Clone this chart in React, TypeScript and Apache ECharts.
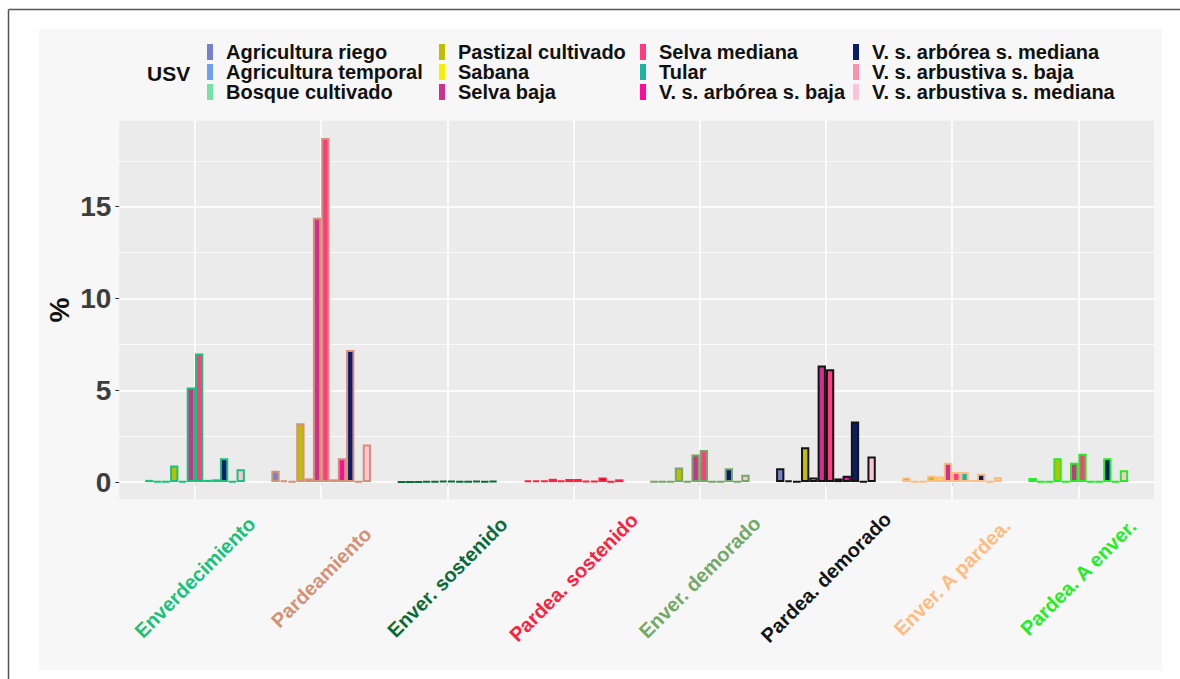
import React, { useEffect, useRef } from "react";
import * as echarts from "echarts";

// Change categories (x axis) and the colour used for each label / bar outline
const categories = [
  "Enverdecimiento",
  "Pardeamiento",
  "Enver. sostenido",
  "Pardea. sostenido",
  "Enver. demorado",
  "Pardea. demorado",
  "Enver. A pardea.",
  "Pardea. A enver.",
];
const categoryColors = [
  "#19c27a",
  "#d39176",
  "#0a6b3a",
  "#ff2040",
  "#74a865",
  "#141414",
  "#ffbb80",
  "#22ee22",
];

// Land use / vegetation classes (USV) and their fills
const usvNames = [
  "Agricultura riego",
  "Agricultura temporal",
  "Bosque cultivado",
  "Pastizal cultivado",
  "Sabana",
  "Selva baja",
  "Selva mediana",
  "Tular",
  "V. s. arbórea s. baja",
  "V. s. arbórea s. mediana",
  "V. s. arbustiva s. baja",
  "V. s. arbustiva s. mediana",
];
const usvColors = [
  "#7682cc",
  "#6d9ff0",
  "#72e3a2",
  "#bfbf00",
  "#f7ee00",
  "#d02f8f",
  "#ff3b82",
  "#1fb3a6",
  "#ff0aa0",
  "#0b1c6e",
  "#ff8fb0",
  "#ffc4da",
];

// Percentages per class, in category order
const agriculturaRiego = [0.12, 0.62, 0.02, 0.1, 0.03, 0.75, 0.25, 0.22];
const agriculturaTemporal = [0.03, 0.1, 0.02, 0.1, 0.03, 0.1, 0.03, 0.03];
const bosqueCultivado = [0.03, 0.05, 0.01, 0.08, 0.03, 0.03, 0.03, 0.03];
const pastizalCultivado = [0.9, 3.2, 0.05, 0.18, 0.8, 1.9, 0.35, 1.3];
const sabana = [0.05, 0.2, 0.05, 0.08, 0.05, 0.25, 0.3, 0.03];
const selvaBaja = [5.15, 14.4, 0.07, 0.17, 1.5, 6.35, 1.05, 1.05];
const selvaMediana = [7.0, 18.75, 0.07, 0.17, 1.75, 6.15, 0.55, 1.55];
const tular = [0.12, 0.15, 0.05, 0.07, 0.03, 0.2, 0.55, 0.03];
const arboreaBaja = [0.15, 1.3, 0.03, 0.07, 0.03, 0.35, 0.12, 0.03];
const arboreaMediana = [1.3, 7.2, 0.07, 0.25, 0.75, 3.3, 0.45, 1.3];
const arbustivaBaja = [0.05, 0.03, 0.04, 0.05, 0.03, 0.05, 0.05, 0.03];
const arbustivaMediana = [0.7, 2.05, 0.06, 0.15, 0.4, 1.4, 0.28, 0.65];

const seriesValues = [
  agriculturaRiego,
  agriculturaTemporal,
  bosqueCultivado,
  pastizalCultivado,
  sabana,
  selvaBaja,
  selvaMediana,
  tular,
  arboreaBaja,
  arboreaMediana,
  arbustivaBaja,
  arbustivaMediana,
];

const yTicks = [0, 5, 10, 15];
const yMinorLines = [2.5, 7.5, 12.5, 17.5];

const FONT = "'Liberation Sans', Arial, Helvetica, sans-serif";

// Panel geometry (ggplot-like discrete expansion of 0.6 on each side)
const PANEL_LEFT = 119.3;
const PANEL_RIGHT = 1154;
const PANEL_TOP = 120.7;
const PANEL_BOTTOM = 499.3;

// Legend key: narrow bar on the left of a 14px-wide icon box
const KEY_ICON = "path://M0,0L6,0L6,16L0,16Z M14,0L14,0";

export default function App() {
  const ref = useRef<HTMLDivElement>(null);

  useEffect(() => {
    if (!ref.current) return;
    const chart = echarts.init(ref.current, undefined, { renderer: "svg" });

    const allValues = seriesValues.flat();
    const yMax = Math.max(...allValues);
    const pad = yMax * 0.05;
    const yLow = -pad;
    const yHigh = yMax + pad;

    const panelWidth = PANEL_RIGHT - PANEL_LEFT;
    const panelHeight = PANEL_BOTTOM - PANEL_TOP;
    const unit = panelWidth / (categories.length + 0.2);

    const legendColumns = [
      [0, 1, 2],
      [3, 4, 5],
      [6, 7, 8],
      [9, 10, 11],
    ];
    const legendLeft = [207, 439, 640, 853];

    const gridLines: any[] = [
      ...yTicks.map((v) => ({
        yAxis: v,
        lineStyle: { color: "#ffffff", width: 1.6, type: "solid", opacity: 1 },
      })),
      ...yMinorLines.map((v) => ({
        yAxis: v,
        lineStyle: { color: "#ffffff", width: 0.8, type: "solid", opacity: 0.9 },
      })),
      ...categories.map((_, i) => ({
        xAxis: i + 1,
        lineStyle: { color: "#ffffff", width: 1.6, type: "solid", opacity: 1 },
      })),
    ];

    chart.setOption({
      animation: false,
      backgroundColor: "#ffffff",
      textStyle: { fontFamily: FONT },
      grid: [
        {
          left: PANEL_LEFT,
          top: PANEL_TOP,
          width: panelWidth,
          height: panelHeight,
          show: true,
          backgroundColor: "#ebebeb",
          borderWidth: 0,
          containLabel: false,
          outerBoundsMode: "none",
        },
        {
          left: PANEL_LEFT + unit * 0.1,
          top: PANEL_TOP,
          width: unit * categories.length,
          height: panelHeight,
          show: false,
          containLabel: false,
          outerBoundsMode: "none",
        },
      ],
      xAxis: [
        {
          type: "value",
          gridIndex: 0,
          min: 0.4,
          max: categories.length + 0.6,
          show: false,
        },
        {
          type: "category",
          gridIndex: 1,
          data: categories.map((c, i) => ({
            value: c,
            textStyle: {
              color: categoryColors[i],
              align: "center",
              verticalAlign: "middle",
            },
          })),
          boundaryGap: true,
          axisLine: { show: false },
          axisTick: {
            show: true,
            alignWithLabel: true,
            length: 4,
            lineStyle: { color: "#333333", width: 1 },
          },
          splitLine: { show: false },
          axisLabel: {
            interval: 0,
            rotate: 45,
            align: "center",
            verticalAlign: "middle",
            margin: 78,
            fontSize: 20,
            fontWeight: "bold",
            fontFamily: FONT,
          },
        },
      ],
      yAxis: [
        {
          type: "value",
          gridIndex: 0,
          min: yLow,
          max: yHigh,
          axisLine: { show: false },
          splitLine: { show: false },
          axisTick: {
            show: true,
            length: 4,
            lineStyle: { color: "#333333", width: 1 },
            customValues: yTicks,
          },
          axisLabel: {
            customValues: yTicks,
            margin: 8,
            fontSize: 28,
            fontWeight: "bold",
            color: "#3d3d3d",
            fontFamily: FONT,
          },
        },
        {
          type: "value",
          gridIndex: 1,
          min: yLow,
          max: yHigh,
          show: false,
        },
      ],
      legend: legendColumns.map((col, i) => ({
        orient: "vertical",
        left: legendLeft[i],
        top: 42,
        padding: 0,
        itemGap: 0,
        itemWidth: 14,
        itemHeight: 16,
        icon: KEY_ICON,
        selectedMode: false,
        itemStyle: { borderWidth: 0 },
        data: col.map((j) => usvNames[j]),
        textStyle: {
          fontFamily: FONT,
          fontSize: 20,
          fontWeight: "bold",
          color: "#111111",
          lineHeight: 20,
        },
      })),
      graphic: [
        {
          type: "rect",
          z: -10,
          silent: true,
          shape: { x: 39, y: 29, width: 1123, height: 641 },
          style: { fill: "#f7f7f7" },
        },
        {
          type: "line",
          silent: true,
          shape: { x1: 8.5, y1: 9.5, x2: 1180, y2: 9.5 },
          style: { stroke: "#555555", lineWidth: 1.5 },
        },
        {
          type: "line",
          silent: true,
          shape: { x1: 8.5, y1: 9.5, x2: 8.5, y2: 679 },
          style: { stroke: "#555555", lineWidth: 1.5 },
        },
        {
          type: "text",
          silent: true,
          x: 147,
          y: 73.5,
          style: {
            text: "USV",
            fontFamily: FONT,
            fontSize: 21,
            fontWeight: "bold",
            fill: "#111111",
            verticalAlign: "middle",
          },
        },
        {
          type: "text",
          silent: true,
          x: 59,
          y: 310,
          rotation: Math.PI / 2,
          style: {
            text: "%",
            fontFamily: FONT,
            fontSize: 28,
            fontWeight: "bold",
            fill: "#111111",
            align: "center",
            verticalAlign: "middle",
          },
        },
      ],
      series: [
        {
          type: "line",
          xAxisIndex: 0,
          yAxisIndex: 0,
          data: [[1, 0]],
          symbol: "none",
          lineStyle: { opacity: 0 },
          silent: true,
          z: 1,
          markLine: {
            silent: true,
            symbol: "none",
            z: 1,
            label: { show: false },
            data: gridLines,
          },
        },
        ...usvNames.map((name, s) => ({
          name,
          type: "bar",
          xAxisIndex: 1,
          yAxisIndex: 1,
          barGap: "0%",
          barCategoryGap: "21%",
          z: 3,
          itemStyle: { color: usvColors[s], borderWidth: 2 },
          emphasis: { disabled: true },
          data: seriesValues[s].map((v, c) => ({
            value: v,
            itemStyle: { borderColor: categoryColors[c] },
          })),
        })),
      ],
    });

    return () => chart.dispose();
  }, []);

  return (
    <div
      ref={ref}
      style={{ position: "fixed", left: 0, top: 0, width: 1180, height: 679 }}
    />
  );
}
